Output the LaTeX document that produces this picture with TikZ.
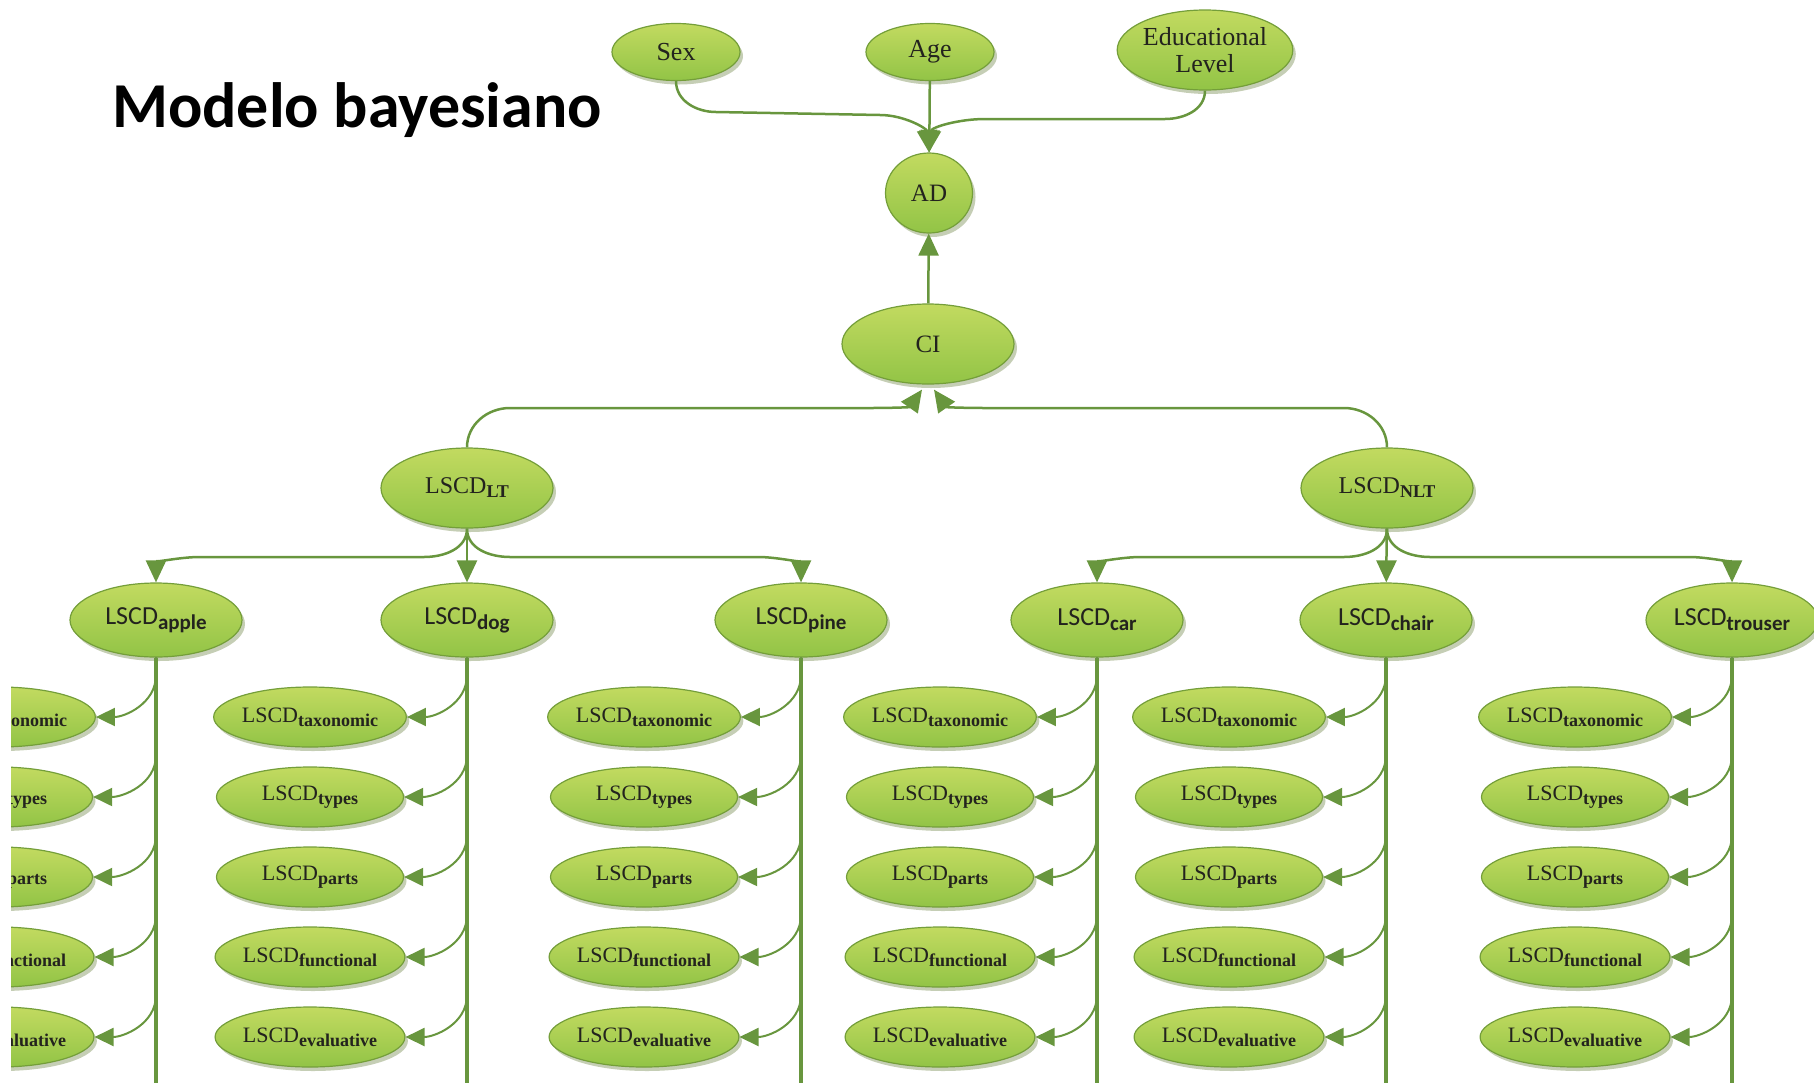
\documentclass[tikz,border=0pt]{standalone}
\usepackage{fontspec}
\setmainfont{Liberation Serif}
\setsansfont{Carlito}
\usetikzlibrary{shapes.geometric,arrows.meta,shadows,calc}

\definecolor{nodetop}{RGB}{194,218,96}
\definecolor{nodebot}{RGB}{146,196,70}
\definecolor{nodeedge}{RGB}{116,158,58}
\definecolor{linkcol}{RGB}{104,150,62}
\definecolor{shadowcol}{RGB}{150,166,120}
\definecolor{txtcol}{RGB}{35,35,30}

\newcommand\lscdserif[1]{LSCD\raisebox{-4pt}{\fontsize{18}{18}\selectfont\bfseries #1}}
\newcommand\lscdsans[1]{{\sffamily LSCD\raisebox{-5pt}{\fontsize{21}{21}\selectfont\bfseries #1}}}

\begin{document}
\begin{tikzpicture}[x=1pt,y=-1pt,
  bnode/.style={ellipse, draw=nodeedge, line width=1.2pt, top color=nodetop, bottom color=nodebot,
    inner sep=0pt, text=txtcol,
    drop shadow={shadow xshift=3pt, shadow yshift=-4pt, fill=shadowcol, opacity=0.55}},
  topnode/.style={bnode, minimum width=128pt, minimum height=57pt, font=\fontsize{26}{27}\selectfont},
  bignode/.style={bnode, minimum width=172pt, minimum height=80pt, font=\fontsize{24}{26}\selectfont},
  catnode/.style={bnode, minimum width=172pt, minimum height=74pt, font=\fontsize{26}{28}\selectfont},
  leafnode/.style={bnode, minimum width=187pt, minimum height=60pt, font=\fontsize{22}{24}\selectfont},
  linkarrow/.style={draw=linkcol, line width=2.5pt, -{Triangle[length=22pt,width=20pt]}},
  leafarrow/.style={draw=linkcol, line width=2pt, -{Triangle[length=19pt,width=18pt]}},
  trunkline/.style={draw=linkcol, line width=4pt}
]
\useasboundingbox (0,0) rectangle (1814,1082);
\clip (11,0) rectangle (1814,1082);

% title
\node[anchor=base west, inner sep=0pt, font=\sffamily\bfseries\fontsize{64}{72}\selectfont] (title) at (112,127) {Modelo bayesiano};

% top nodes
\node[topnode] (sex) at (676,52) {Sex};
\node[topnode] (age) at (930,52) {Age};
\node[topnode, minimum width=175pt, minimum height=80pt, align=center] (edu) at (1205,50) {Educational\\Level};
\node[bignode, minimum width=87pt, font=\fontsize{25}{26}\selectfont] (ad) at (929,193) {AD};
\node[bignode, font=\fontsize{25}{26}\selectfont] (ci) at (928,344) {CI};
\node[bignode] (lt) at (467,488) {\lscdserif{LT}};
\node[bignode] (nlt) at (1387,488) {\lscdserif{NLT}};

% connectors to AD
\draw[linkarrow] (sex.south) to[out=-90,in=180] (716,112) -- (880,115) to[out=0,in=95] (ad.north);
\draw[linkarrow] (age) -- (ad);
\draw[linkarrow] (edu.south) to[out=-90,in=0] (1165,119) -- (985,119) to[out=180,in=85] (ad.north);
\draw[linkarrow] (ci) -- (ad);

% connectors to CI
\coordinate (cil) at ($(ci.south)+(-6,5)$);
\coordinate (cir) at ($(ci.south)+(6,5)$);
\draw[linkarrow] (lt.north) to[out=90,in=180] (510,408) -- (870,408) to[out=0,in=-125] (cil);
\draw[linkarrow] (nlt.north) to[out=90,in=0] (1344,408) -- (986,408) to[out=180,in=-55] (cir);

% category nodes and their leaves
\foreach \p/\x in {apple/156, dog/467, pine/801, car/1097, chair/1386, trouser/1732} {
  \node[catnode] (\p) at (\x,620) {\lscdsans{\p}};
  \coordinate (\p-end) at (\x,1100);
  \draw[trunkline] (\p.south) -- (\p-end);
  \foreach \s [count=\i, evaluate=\i as \yy using 637+80*\i] in {taxonomic,types,parts,functional,evaluative} {
    \node[leafnode] (\p-\i) at (\x-157,\yy) {\lscdserif{\s}};
    \draw[leafarrow] (\p.south) -- (\x,\yy-42) to[out=-90,in=0] (\p-\i.east);
  }
}

% connectors LT / NLT to categories
\draw[linkarrow] (lt.south) to[out=-90,in=0] (424,557) -- (200,557) to[out=180,in=90] (apple.north);
\draw[linkarrow] (lt) -- (dog);
\draw[linkarrow] (lt.south) to[out=-90,in=180] (510,557) -- (758,557) to[out=0,in=90] (pine.north);
\draw[linkarrow] (nlt.south) to[out=-90,in=0] (1344,557) -- (1141,557) to[out=180,in=90] (car.north);
\draw[linkarrow] (nlt) -- (chair);
\draw[linkarrow] (nlt.south) to[out=-90,in=180] (1430,557) -- (1689,557) to[out=0,in=90] (trouser.north);
\end{tikzpicture}
\end{document}
